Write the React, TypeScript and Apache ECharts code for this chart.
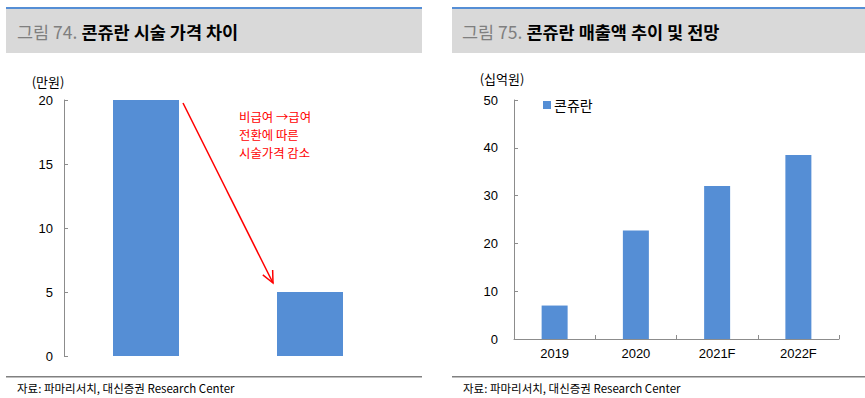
import React, { useEffect, useRef } from "react";
import * as echarts from "echarts";

const leftCategories = ["비급여", "급여"];
const leftValues = [20, 5];
const leftTicks = [0, 5, 10, 15, 20];

const rightCategories = ["2019", "2020", "2021F", "2022F"];
const rightValues = [7, 22.7, 32, 38.5];
const rightTicks = [0, 10, 20, 30, 40, 50];

const noteLines = ["비급여 →급여", "전환에 따른", "시술가격 감소"];

const BLUE = "#558ED5";
const FONT = "'Noto Sans CJK KR', 'Noto Sans', sans-serif";

export default function App() {
  const ref = useRef<HTMLDivElement>(null);
  useEffect(() => {
    if (!ref.current) return;
    const chart = echarts.init(ref.current, null, { renderer: "svg" });
    const axisLabel = { color: "#000", fontSize: 13, fontFamily: "Arial, 'Liberation Sans', sans-serif" };
    const arrowStart = [183, 103];
    const arrowEnd = [273, 283];
    const dx = arrowEnd[0] - arrowStart[0];
    const dy = arrowEnd[1] - arrowStart[1];
    const len = Math.sqrt(dx * dx + dy * dy);
    const ux = dx / len, uy = dy / len;
    const headLen = 13, ang = (25 * Math.PI) / 180;
    const rot = (a: number) => [ux * Math.cos(a) - uy * Math.sin(a), ux * Math.sin(a) + uy * Math.cos(a)];
    const b1 = rot(ang), b2 = rot(-ang);
    const head = [
      [arrowEnd[0] - b1[0] * headLen, arrowEnd[1] - b1[1] * headLen],
      [arrowEnd[0], arrowEnd[1]],
      [arrowEnd[0] - b2[0] * headLen, arrowEnd[1] - b2[1] * headLen],
    ];
    const titleRich = {
      g: { fill: "#7f7f7f", fontSize: 17.5, fontFamily: FONT },
      b: { fill: "#000", fontSize: 17.5, fontWeight: "bold", fontFamily: FONT },
    };
    const noteYs = [117, 135, 153];
    chart.setOption({
      animation: false,
      backgroundColor: "#fff",
      legend: {
        show: true,
        left: 538,
        top: 93,
        itemWidth: 8,
        itemHeight: 8,
        itemGap: 4,
        icon: "rect",
        data: ["콘쥬란"],
        textStyle: { fontSize: 14, color: "#000", fontFamily: FONT, padding: [0, 0, 0, -2] },
      },
      grid: [
        { left: 64, top: 100, width: 328, height: 256 },
        { left: 514, top: 100, width: 325, height: 239 },
      ],
      xAxis: [
        {
          type: "category",
          gridIndex: 0,
          data: leftCategories,
          axisLine: { show: false },
          axisTick: { show: false },
          axisLabel: { show: false },
        },
        {
          type: "category",
          gridIndex: 1,
          data: rightCategories,
          axisLine: { show: true, lineStyle: { color: "#8c8c8c", width: 1 } },
          axisTick: { show: true, inside: true, length: 4, lineStyle: { color: "#8c8c8c" } },
          axisLabel: { ...axisLabel, margin: 8 },
        },
      ],
      yAxis: [
        {
          type: "value",
          gridIndex: 0,
          min: leftTicks[0],
          max: leftTicks[leftTicks.length - 1],
          interval: 5,
          axisLine: { show: true, lineStyle: { color: "#8c8c8c", width: 1 } },
          axisTick: { show: true, inside: true, length: 4, lineStyle: { color: "#8c8c8c" } },
          axisLabel: { ...axisLabel, margin: 11 },
          splitLine: { show: false },
        },
        {
          type: "value",
          gridIndex: 1,
          min: rightTicks[0],
          max: rightTicks[rightTicks.length - 1],
          interval: 10,
          axisLine: { show: true, lineStyle: { color: "#8c8c8c", width: 1 } },
          axisTick: { show: true, inside: true, length: 4, lineStyle: { color: "#8c8c8c" } },
          axisLabel: { ...axisLabel, margin: 16 },
          splitLine: { show: false },
        },
      ],
      series: [
        {
          type: "bar",
          xAxisIndex: 0,
          yAxisIndex: 0,
          data: leftValues,
          barWidth: 66,
          itemStyle: { color: BLUE },
        },
        {
          name: "콘쥬란",
          type: "bar",
          xAxisIndex: 1,
          yAxisIndex: 1,
          data: rightValues,
          barWidth: 26,
          itemStyle: { color: BLUE },
        },
      ],
      graphic: [
        { type: "rect", shape: { x: 6, y: 7, width: 416, height: 2 }, style: { fill: BLUE } },
        { type: "rect", shape: { x: 6, y: 9, width: 416, height: 44 }, style: { fill: "#d9d9d9" } },
        { type: "rect", shape: { x: 452, y: 7, width: 413, height: 2 }, style: { fill: BLUE } },
        { type: "rect", shape: { x: 452, y: 9, width: 413, height: 44 }, style: { fill: "#d9d9d9" } },
        {
          type: "text",
          x: 17,
          y: 31,
          style: { text: "{g|그림 74.}{b| 콘쥬란 시술 가격 차이}", rich: titleRich, verticalAlign: "middle" },
        },
        {
          type: "text",
          x: 462,
          y: 31,
          style: { text: "{g|그림 75.}{b| 콘쥬란 매출액 추이 및 전망}", rich: titleRich, verticalAlign: "middle" },
        },
        {
          type: "text",
          x: 48,
          y: 81,
          style: { text: "(만원)", fill: "#000", fontSize: 13, fontFamily: FONT, align: "center", verticalAlign: "middle" },
        },
        {
          type: "text",
          x: 502,
          y: 78,
          style: { text: "(십억원)", fill: "#000", fontSize: 13, fontFamily: FONT, align: "center", verticalAlign: "middle" },
        },
        ...noteLines.map((t, i) => ({
          type: "text",
          x: 239,
          y: noteYs[i],
          style: {
            text: t,
            fill: "#ff0000",
            fontSize: 12.4,
            fontFamily: FONT,
            align: "left",
            verticalAlign: "middle",
          },
        })),
        {
          type: "line",
          shape: { x1: arrowStart[0], y1: arrowStart[1], x2: arrowEnd[0], y2: arrowEnd[1] },
          style: { stroke: "#ff0000", lineWidth: 1.5 },
        },
        {
          type: "polyline",
          shape: { points: head },
          style: { stroke: "#ff0000", lineWidth: 1.5, fill: null },
        },
        { type: "rect", shape: { x: 6, y: 376, width: 416, height: 1.5 }, style: { fill: "#808080" } },
        { type: "rect", shape: { x: 452, y: 376, width: 413, height: 1.5 }, style: { fill: "#808080" } },
        {
          type: "text",
          x: 17,
          y: 388,
          style: { text: "자료: 파마리서치, 대신증권 Research Center", fill: "#000", fontSize: 11.5, fontFamily: FONT, verticalAlign: "middle" },
        },
        {
          type: "text",
          x: 463,
          y: 388,
          style: { text: "자료: 파마리서치, 대신증권 Research Center", fill: "#000", fontSize: 11.5, fontFamily: FONT, verticalAlign: "middle" },
        },
      ],
    });
    return () => chart.dispose();
  }, []);
  return <div ref={ref} style={{ position: "fixed", left: 0, top: 0, width: 865, height: 398 }} />;
}
